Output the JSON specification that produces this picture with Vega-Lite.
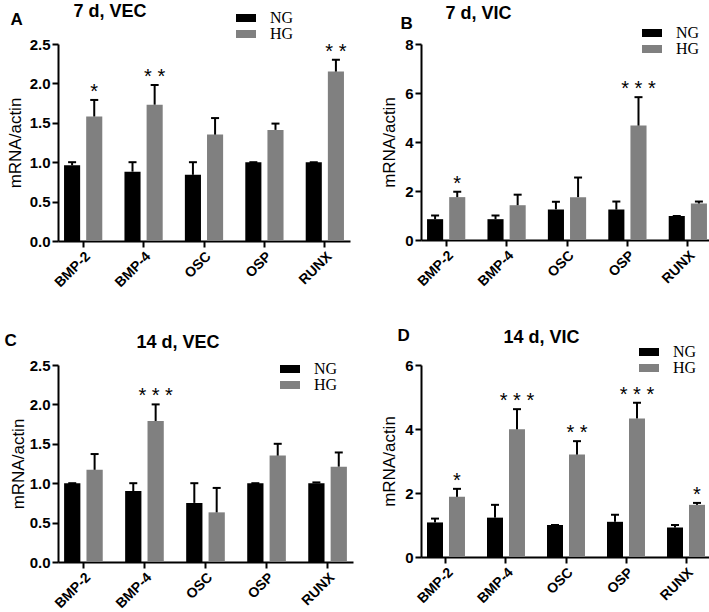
{
  "$schema": "https://vega.github.io/schema/vega-lite/v6.json",
  "padding": {"left": 4, "top": 2, "right": 0, "bottom": 0},
  "background": "white",
  "columns": 2,
  "spacing": {"row": 36, "column": 27},
  "resolve": {"scale": {"color": "independent", "y": "independent", "x": "independent", "xOffset": "independent"}, "legend": {"color": "independent"}},
  "datasets": {
    "rows": [
      {"panel": "A", "gene": "BMP-2", "group": "NG", "value": 0.96, "upper": 1.0, "star": ""},
      {"panel": "A", "gene": "BMP-2", "group": "HG", "value": 1.58, "upper": 1.79, "star": "*"},
      {"panel": "A", "gene": "BMP-4", "group": "NG", "value": 0.88, "upper": 1.0, "star": ""},
      {"panel": "A", "gene": "BMP-4", "group": "HG", "value": 1.73, "upper": 1.98, "star": "* *"},
      {"panel": "A", "gene": "OSC", "group": "NG", "value": 0.84, "upper": 1.0, "star": ""},
      {"panel": "A", "gene": "OSC", "group": "HG", "value": 1.35, "upper": 1.56, "star": ""},
      {"panel": "A", "gene": "OSP", "group": "NG", "value": 1.0, "upper": 1.0, "star": ""},
      {"panel": "A", "gene": "OSP", "group": "HG", "value": 1.41, "upper": 1.49, "star": ""},
      {"panel": "A", "gene": "RUNX", "group": "NG", "value": 1.0, "upper": 1.0, "star": ""},
      {"panel": "A", "gene": "RUNX", "group": "HG", "value": 2.15, "upper": 2.3, "star": "* *"},
      {"panel": "B", "gene": "BMP-2", "group": "NG", "value": 0.85, "upper": 1.0, "star": ""},
      {"panel": "B", "gene": "BMP-2", "group": "HG", "value": 1.75, "upper": 1.97, "star": "*"},
      {"panel": "B", "gene": "BMP-4", "group": "NG", "value": 0.85, "upper": 1.0, "star": ""},
      {"panel": "B", "gene": "BMP-4", "group": "HG", "value": 1.42, "upper": 1.85, "star": ""},
      {"panel": "B", "gene": "OSC", "group": "NG", "value": 1.25, "upper": 1.56, "star": ""},
      {"panel": "B", "gene": "OSC", "group": "HG", "value": 1.75, "upper": 2.55, "star": ""},
      {"panel": "B", "gene": "OSP", "group": "NG", "value": 1.24, "upper": 1.57, "star": ""},
      {"panel": "B", "gene": "OSP", "group": "HG", "value": 4.67, "upper": 5.83, "star": "* * *"},
      {"panel": "B", "gene": "RUNX", "group": "NG", "value": 0.98, "upper": 0.98, "star": ""},
      {"panel": "B", "gene": "RUNX", "group": "HG", "value": 1.49, "upper": 1.57, "star": ""},
      {"panel": "C", "gene": "BMP-2", "group": "NG", "value": 1.0, "upper": 1.0, "star": ""},
      {"panel": "C", "gene": "BMP-2", "group": "HG", "value": 1.17, "upper": 1.37, "star": ""},
      {"panel": "C", "gene": "BMP-4", "group": "NG", "value": 0.9, "upper": 1.0, "star": ""},
      {"panel": "C", "gene": "BMP-4", "group": "HG", "value": 1.79, "upper": 2.0, "star": "* * *"},
      {"panel": "C", "gene": "OSC", "group": "NG", "value": 0.75, "upper": 1.0, "star": ""},
      {"panel": "C", "gene": "OSC", "group": "HG", "value": 0.63, "upper": 0.94, "star": ""},
      {"panel": "C", "gene": "OSP", "group": "NG", "value": 1.0, "upper": 1.0, "star": ""},
      {"panel": "C", "gene": "OSP", "group": "HG", "value": 1.35, "upper": 1.5, "star": ""},
      {"panel": "C", "gene": "RUNX", "group": "NG", "value": 1.0, "upper": 1.01, "star": ""},
      {"panel": "C", "gene": "RUNX", "group": "HG", "value": 1.21, "upper": 1.39, "star": ""},
      {"panel": "D", "gene": "BMP-2", "group": "NG", "value": 1.08, "upper": 1.2, "star": ""},
      {"panel": "D", "gene": "BMP-2", "group": "HG", "value": 1.88, "upper": 2.13, "star": "*"},
      {"panel": "D", "gene": "BMP-4", "group": "NG", "value": 1.23, "upper": 1.63, "star": ""},
      {"panel": "D", "gene": "BMP-4", "group": "HG", "value": 3.99, "upper": 4.62, "star": "* * *"},
      {"panel": "D", "gene": "OSC", "group": "NG", "value": 1.0, "upper": 1.0, "star": ""},
      {"panel": "D", "gene": "OSC", "group": "HG", "value": 3.2, "upper": 3.62, "star": "* *"},
      {"panel": "D", "gene": "OSP", "group": "NG", "value": 1.1, "upper": 1.32, "star": ""},
      {"panel": "D", "gene": "OSP", "group": "HG", "value": 4.33, "upper": 4.82, "star": "* * *"},
      {"panel": "D", "gene": "RUNX", "group": "NG", "value": 0.92, "upper": 1.0, "star": ""},
      {"panel": "D", "gene": "RUNX", "group": "HG", "value": 1.63, "upper": 1.69, "star": "*"}
    ]
  },
  "config": {
    "view": {"stroke": null},
    "font": "Liberation Sans",
    "axis": {
      "grid": false,
      "domainColor": "black",
      "domainWidth": 2,
      "tickColor": "black",
      "tickWidth": 2,
      "tickSize": 6,
      "labelColor": "black",
      "labelFont": "Liberation Sans",
      "labelFontWeight": "bold",
      "labelFontSize": 15,
      "labelOverlap": false,
      "titleColor": "black",
      "titleFont": "Liberation Sans",
      "titleFontWeight": "normal",
      "titleFontSize": 17
    },
    "legend": {
      "title": null,
      "orient": "none",
      "symbolType": "M-1,-0.8H3V0.8H-1Z",
      "symbolSize": 100,
      "symbolStrokeWidth": 0,
      "symbolOpacity": 1,
      "labelFont": "Liberation Serif",
      "labelFontSize": 16,
      "labelColor": "black",
      "labelOffset": 21,
      "rowPadding": 0,
      "padding": 0
    }
  },
  "concat": [
    {
      "width": 292, "height": 197,
      "data": {"name": "rows"},
      "transform": [{"filter": "datum.panel == 'A'"}],
      "resolve": {"axis": {"x": "independent", "y": "independent"}},
      "layer": [
        {"mark": {"type": "bar"},
         "encoding": {
           "x": {"field": "gene", "type": "nominal", "sort": ["BMP-2", "BMP-4", "OSC", "OSP", "RUNX"], "scale": {"paddingInner": 0.367, "paddingOuter": 0.1}, "axis": {"title": null, "labelAngle": -45, "labelFontSize": 14, "labelPadding": 2}},
           "xOffset": {"field": "group", "sort": ["NG", "HG"], "scale": {"paddingInner": 0.273, "paddingOuter": 0}},
           "y": {"field": "value", "type": "quantitative", "scale": {"domain": [0, 2.5], "nice": false}, "axis": {"title": "mRNA/actin", "values": [0, 0.5, 1, 1.5, 2, 2.5], "tickCount": 6, "format": ".1f", "labelPadding": 2, "titlePadding": 5, "labelOverlap": false}},
           "color": {"field": "group", "sort": ["NG", "HG"], "scale": {"domain": ["NG", "HG"], "range": ["#000000", "#808080"]}, "legend": {"legendX": 175, "legendY": -34}}
         }},
        {"mark": {"type": "rule", "color": "black", "strokeWidth": 2},
         "encoding": {
           "x": {"field": "gene", "type": "nominal", "sort": ["BMP-2", "BMP-4", "OSC", "OSP", "RUNX"], "axis": {"orient": "top", "labels": false, "ticks": false, "domain": false, "title": "7 d, VEC", "titleX": 15, "titleY": -28, "titleAlign": "left", "titleAngle": 0, "titleBaseline": "alphabetic", "titleFontWeight": "bold", "titleFontSize": 18}},
           "xOffset": {"field": "group", "sort": ["NG", "HG"]},
           "y": {"field": "value", "type": "quantitative", "axis": {"orient": "right", "labels": false, "ticks": false, "domain": false, "title": "A", "titleX": -340, "titleY": -20, "titleAlign": "left", "titleAngle": 0, "titleBaseline": "alphabetic", "titleFontWeight": "bold", "titleFontSize": 17}},
           "y2": {"field": "upper"}
         }},
        {"mark": {"type": "tick", "color": "black", "thickness": 2, "size": 8, "opacity": 1},
         "encoding": {
           "x": {"field": "gene", "type": "nominal", "sort": ["BMP-2", "BMP-4", "OSC", "OSP", "RUNX"], "axis": null},
           "xOffset": {"field": "group", "sort": ["NG", "HG"]},
           "y": {"field": "upper", "type": "quantitative", "axis": null}
         }},
        {"mark": {"type": "text", "dy": -2, "fontSize": 20, "font": "Liberation Sans", "color": "black", "baseline": "alphabetic"},
         "encoding": {
           "x": {"field": "gene", "type": "nominal", "sort": ["BMP-2", "BMP-4", "OSC", "OSP", "RUNX"], "axis": null},
           "xOffset": {"field": "group", "sort": ["NG", "HG"]},
           "y": {"field": "upper", "type": "quantitative", "axis": null},
           "text": {"field": "star"}
         }}
      ]
    },
    {
      "width": 292, "height": 196,
      "data": {"name": "rows"},
      "transform": [{"filter": "datum.panel == 'B'"}],
      "resolve": {"axis": {"x": "independent", "y": "independent"}},
      "layer": [
        {"mark": {"type": "bar"},
         "encoding": {
           "x": {"field": "gene", "type": "nominal", "sort": ["BMP-2", "BMP-4", "OSC", "OSP", "RUNX"], "scale": {"paddingInner": 0.367, "paddingOuter": 0.1}, "axis": {"title": null, "labelAngle": -45, "labelFontSize": 14, "labelPadding": 2}},
           "xOffset": {"field": "group", "sort": ["NG", "HG"], "scale": {"paddingInner": 0.273, "paddingOuter": 0}},
           "y": {"field": "value", "type": "quantitative", "scale": {"domain": [0, 8], "nice": false}, "axis": {"title": "mRNA/actin", "values": [0, 2, 4, 6, 8], "tickCount": 5, "format": "d", "labelPadding": 2, "titlePadding": 6, "labelOverlap": false}},
           "color": {"field": "group", "sort": ["NG", "HG"], "scale": {"domain": ["NG", "HG"], "range": ["#000000", "#808080"]}, "legend": {"legendX": 218, "legendY": -19}}
         }},
        {"mark": {"type": "rule", "color": "black", "strokeWidth": 2},
         "encoding": {
           "x": {"field": "gene", "type": "nominal", "sort": ["BMP-2", "BMP-4", "OSC", "OSP", "RUNX"], "axis": {"orient": "top", "labels": false, "ticks": false, "domain": false, "title": "7 d, VIC", "titleX": 24, "titleY": -26, "titleAlign": "left", "titleAngle": 0, "titleBaseline": "alphabetic", "titleFontWeight": "bold", "titleFontSize": 18}},
           "xOffset": {"field": "group", "sort": ["NG", "HG"]},
           "y": {"field": "value", "type": "quantitative", "axis": {"orient": "right", "labels": false, "ticks": false, "domain": false, "title": "B", "titleX": -313, "titleY": -16, "titleAlign": "left", "titleAngle": 0, "titleBaseline": "alphabetic", "titleFontWeight": "bold", "titleFontSize": 17}},
           "y2": {"field": "upper"}
         }},
        {"mark": {"type": "tick", "color": "black", "thickness": 2, "size": 8, "opacity": 1},
         "encoding": {
           "x": {"field": "gene", "type": "nominal", "sort": ["BMP-2", "BMP-4", "OSC", "OSP", "RUNX"], "axis": null},
           "xOffset": {"field": "group", "sort": ["NG", "HG"]},
           "y": {"field": "upper", "type": "quantitative", "axis": null}
         }},
        {"mark": {"type": "text", "dy": -2, "fontSize": 20, "font": "Liberation Sans", "color": "black", "baseline": "alphabetic"},
         "encoding": {
           "x": {"field": "gene", "type": "nominal", "sort": ["BMP-2", "BMP-4", "OSC", "OSP", "RUNX"], "axis": null},
           "xOffset": {"field": "group", "sort": ["NG", "HG"]},
           "y": {"field": "upper", "type": "quantitative", "axis": null},
           "text": {"field": "star"}
         }}
      ]
    },
    {
      "width": 295, "height": 197,
      "data": {"name": "rows"},
      "transform": [{"filter": "datum.panel == 'C'"}],
      "resolve": {"axis": {"x": "independent", "y": "independent"}},
      "layer": [
        {"mark": {"type": "bar"},
         "encoding": {
           "x": {"field": "gene", "type": "nominal", "sort": ["BMP-2", "BMP-4", "OSC", "OSP", "RUNX"], "scale": {"paddingInner": 0.367, "paddingOuter": 0.1}, "axis": {"title": null, "labelAngle": -45, "labelFontSize": 14, "labelPadding": 2}},
           "xOffset": {"field": "group", "sort": ["NG", "HG"], "scale": {"paddingInner": 0.273, "paddingOuter": 0}},
           "y": {"field": "value", "type": "quantitative", "scale": {"domain": [0, 2.5], "nice": false}, "axis": {"title": "mRNA/actin", "values": [0, 0.5, 1, 1.5, 2, 2.5], "tickCount": 6, "format": ".1f", "labelPadding": 2, "titlePadding": 2, "labelOverlap": false}},
           "color": {"field": "group", "sort": ["NG", "HG"], "scale": {"domain": ["NG", "HG"], "range": ["#000000", "#808080"]}, "legend": {"legendX": 219, "legendY": -4}}
         }},
        {"mark": {"type": "rule", "color": "black", "strokeWidth": 2},
         "encoding": {
           "x": {"field": "gene", "type": "nominal", "sort": ["BMP-2", "BMP-4", "OSC", "OSP", "RUNX"], "axis": {"orient": "top", "labels": false, "ticks": false, "domain": false, "title": "14 d, VEC", "titleX": 78, "titleY": -18, "titleAlign": "left", "titleAngle": 0, "titleBaseline": "alphabetic", "titleFontWeight": "bold", "titleFontSize": 18}},
           "xOffset": {"field": "group", "sort": ["NG", "HG"]},
           "y": {"field": "value", "type": "quantitative", "axis": {"orient": "right", "labels": false, "ticks": false, "domain": false, "title": "C", "titleX": -349, "titleY": -20, "titleAlign": "left", "titleAngle": 0, "titleBaseline": "alphabetic", "titleFontWeight": "bold", "titleFontSize": 17}},
           "y2": {"field": "upper"}
         }},
        {"mark": {"type": "tick", "color": "black", "thickness": 2, "size": 8, "opacity": 1},
         "encoding": {
           "x": {"field": "gene", "type": "nominal", "sort": ["BMP-2", "BMP-4", "OSC", "OSP", "RUNX"], "axis": null},
           "xOffset": {"field": "group", "sort": ["NG", "HG"]},
           "y": {"field": "upper", "type": "quantitative", "axis": null}
         }},
        {"mark": {"type": "text", "dy": -2, "fontSize": 20, "font": "Liberation Sans", "color": "black", "baseline": "alphabetic"},
         "encoding": {
           "x": {"field": "gene", "type": "nominal", "sort": ["BMP-2", "BMP-4", "OSC", "OSP", "RUNX"], "axis": null},
           "xOffset": {"field": "group", "sort": ["NG", "HG"]},
           "y": {"field": "upper", "type": "quantitative", "axis": null},
           "text": {"field": "star"}
         }}
      ]
    },
    {
      "width": 290, "height": 192,
      "data": {"name": "rows"},
      "transform": [{"filter": "datum.panel == 'D'"}],
      "resolve": {"axis": {"x": "independent", "y": "independent"}},
      "layer": [
        {"mark": {"type": "bar"},
         "encoding": {
           "x": {"field": "gene", "type": "nominal", "sort": ["BMP-2", "BMP-4", "OSC", "OSP", "RUNX"], "scale": {"paddingInner": 0.367, "paddingOuter": 0.1}, "axis": {"title": null, "labelAngle": -45, "labelFontSize": 14, "labelPadding": 2}},
           "xOffset": {"field": "group", "sort": ["NG", "HG"], "scale": {"paddingInner": 0.273, "paddingOuter": 0}},
           "y": {"field": "value", "type": "quantitative", "scale": {"domain": [0, 6], "nice": false}, "axis": {"title": "mRNA/actin", "values": [0, 2, 4, 6], "tickCount": 4, "format": "d", "labelPadding": 2, "titlePadding": 6, "labelOverlap": false}},
           "color": {"field": "group", "sort": ["NG", "HG"], "scale": {"domain": ["NG", "HG"], "range": ["#000000", "#808080"]}, "legend": {"legendX": 215, "legendY": -21}}
         }},
        {"mark": {"type": "rule", "color": "black", "strokeWidth": 2},
         "encoding": {
           "x": {"field": "gene", "type": "nominal", "sort": ["BMP-2", "BMP-4", "OSC", "OSP", "RUNX"], "axis": {"orient": "top", "labels": false, "ticks": false, "domain": false, "title": "14 d, VIC", "titleX": 82, "titleY": -23, "titleAlign": "left", "titleAngle": 0, "titleBaseline": "alphabetic", "titleFontWeight": "bold", "titleFontSize": 18}},
           "xOffset": {"field": "group", "sort": ["NG", "HG"]},
           "y": {"field": "value", "type": "quantitative", "axis": {"orient": "right", "labels": false, "ticks": false, "domain": false, "title": "D", "titleX": -314, "titleY": -25, "titleAlign": "left", "titleAngle": 0, "titleBaseline": "alphabetic", "titleFontWeight": "bold", "titleFontSize": 17}},
           "y2": {"field": "upper"}
         }},
        {"mark": {"type": "tick", "color": "black", "thickness": 2, "size": 8, "opacity": 1},
         "encoding": {
           "x": {"field": "gene", "type": "nominal", "sort": ["BMP-2", "BMP-4", "OSC", "OSP", "RUNX"], "axis": null},
           "xOffset": {"field": "group", "sort": ["NG", "HG"]},
           "y": {"field": "upper", "type": "quantitative", "axis": null}
         }},
        {"mark": {"type": "text", "dy": -2, "fontSize": 20, "font": "Liberation Sans", "color": "black", "baseline": "alphabetic"},
         "encoding": {
           "x": {"field": "gene", "type": "nominal", "sort": ["BMP-2", "BMP-4", "OSC", "OSP", "RUNX"], "axis": null},
           "xOffset": {"field": "group", "sort": ["NG", "HG"]},
           "y": {"field": "upper", "type": "quantitative", "axis": null},
           "text": {"field": "star"}
         }}
      ]
    }
  ]
}
